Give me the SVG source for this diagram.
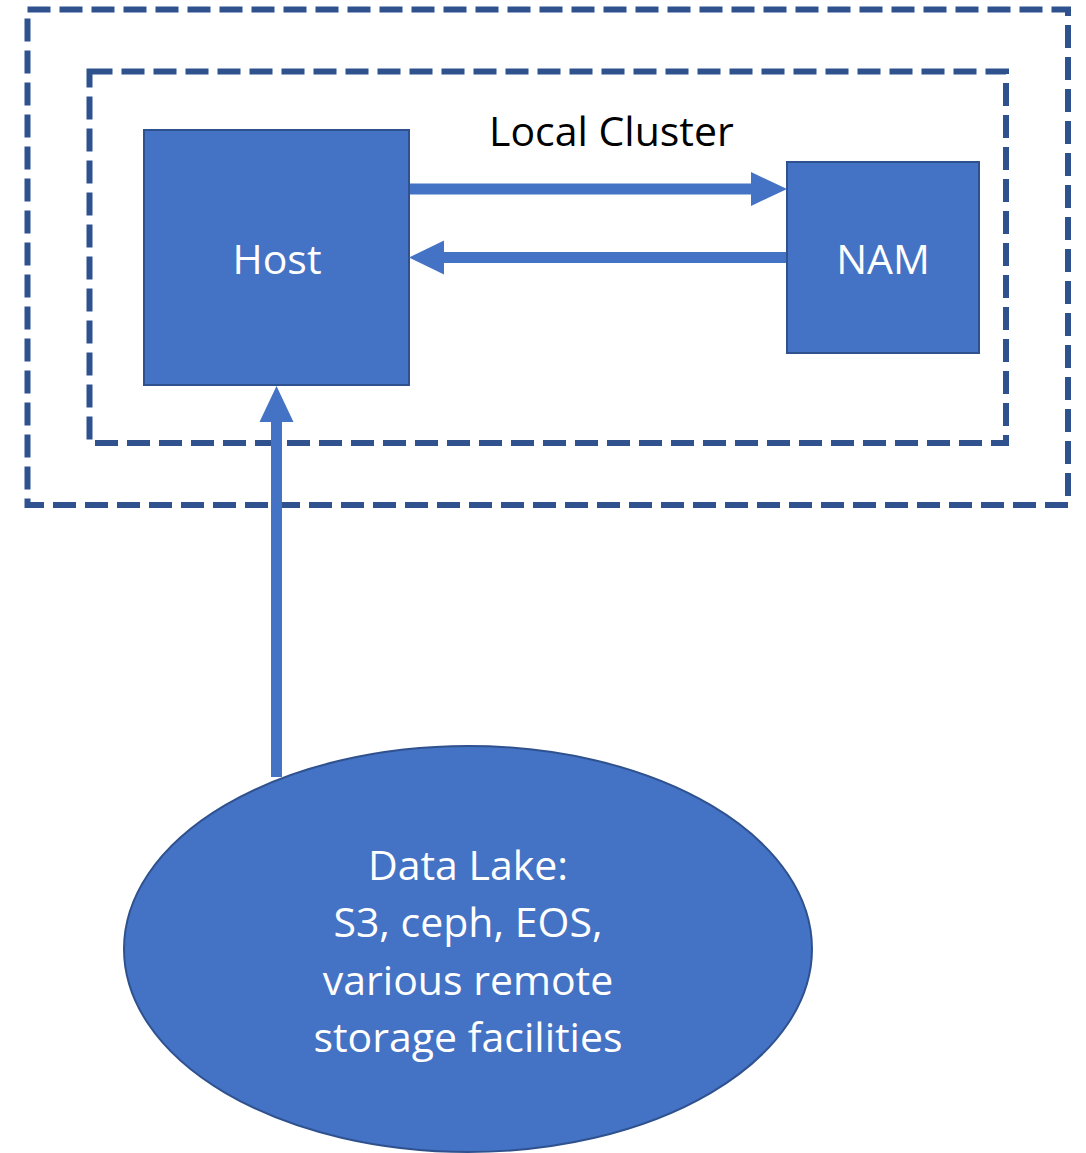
<svg xmlns="http://www.w3.org/2000/svg" width="1086" height="1153" viewBox="0 0 1086 1153">
<style>
.frame{fill:none;stroke:#2F528F;stroke-width:6;stroke-dasharray:23 9}
.node{fill:#4472C4;stroke:#2F528F;stroke-width:2}
.conn{stroke:#4472C4;stroke-width:11;fill:none}
.head{fill:#4472C4}
.lbl{font-family:"Open Sans","Liberation Sans",sans-serif;font-size:41px;fill:#FFFFFF;text-anchor:middle}
.title{font-family:"Open Sans","Liberation Sans",sans-serif;font-size:41px;fill:#000000}
</style>
<rect width="1086" height="1153" fill="#FFFFFF"/>
<g id="outer-frame"><rect class="frame" x="27.5" y="9.5" width="1040.5" height="495.5"/></g>
<g id="local-cluster">
<rect class="frame" x="89.5" y="71.5" width="916.5" height="371.5"/>
<text class="title" x="489" y="146">Local Cluster</text>
</g>
<g id="host"><rect class="node" x="144" y="130" width="265" height="255"/><text class="lbl" x="277" y="274">Host</text></g>
<g id="nam"><rect class="node" x="787" y="162" width="192" height="191"/><text class="lbl" x="883" y="274">NAM</text></g>
<g id="datalake"><ellipse class="node" cx="468" cy="949" rx="344" ry="203"/>
<text class="lbl"><tspan x="468" y="880">Data Lake:</tspan><tspan x="468" y="937">S3, ceph, EOS,</tspan><tspan x="468" y="995">various remote</tspan><tspan x="468" y="1052">storage facilities</tspan></text></g>
<g id="connectors">
<line class="conn" x1="410" y1="189" x2="752" y2="189"/>
<polygon class="head" points="751,172 787,189 751,206"/>
<line class="conn" x1="786" y1="257.5" x2="443" y2="257.5"/>
<polygon class="head" points="444,240.5 409,257.5 444,274.5"/>
<line class="conn" x1="276.5" y1="777" x2="276.5" y2="421"/>
<polygon class="head" points="259.5,422 276.5,386 293.5,422"/>
</g>
</svg>
